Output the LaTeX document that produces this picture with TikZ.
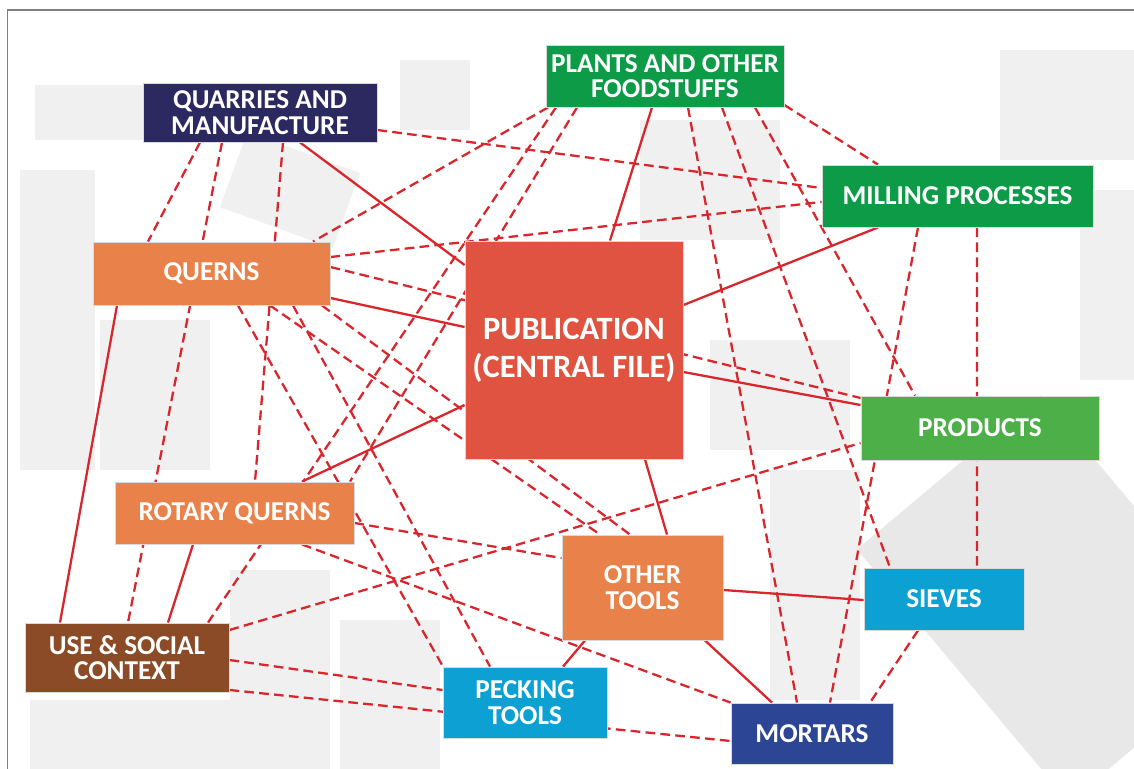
\documentclass[tikz,border=0pt]{standalone}
\usepackage{fontspec}
\setmainfont{Carlito}
\definecolor{quarry}{HTML}{2B2960}
\definecolor{plantgreen}{HTML}{0E9B48}
\definecolor{prodgreen}{HTML}{4CAF47}
\definecolor{quernorange}{HTML}{E8824A}
\definecolor{pubred}{HTML}{E05341}
\definecolor{toolblue}{HTML}{0CA0D3}
\definecolor{socialbrown}{HTML}{8B4B27}
\definecolor{mortarblue}{HTML}{2C4594}
\definecolor{linkred}{HTML}{D8262C}
\pgfdeclarelayer{papers}
\pgfdeclarelayer{links}
\pgfsetlayers{papers,links,main}

\begin{document}
\begin{tikzpicture}[
    topic/.style={rectangle, draw=white!85!black, line width=0.5pt, text=white,
        font=\bfseries\fontsize{15.5}{14.5}\selectfont, align=center, inner sep=2pt},
    solidlink/.style={draw=linkred, line width=1.3pt},
    dashlink/.style={draw=linkred, line width=1.3pt, dash pattern=on 5.5pt off 3pt},
    paper/.style={fill=gray!12, draw=none}
]
    \useasboundingbox (0,0) rectangle (22.68,-15.38);

    %papers in the back
    \begin{pgfonlayer}{papers}
        \fill[white] (0,0) rectangle (22.68,-15.38);
        \fill[paper] (0.7,-1.7) rectangle (3.0,-2.8);
        \fill[paper, rotate around={-20:(5.8,-3.8)}] (4.6,-3.0) rectangle (7.0,-4.6);
        \fill[paper] (0.4,-3.4) rectangle (1.9,-9.4);
        \fill[paper] (2.0,-6.4) rectangle (4.2,-9.4);
        \fill[paper] (8.0,-1.2) rectangle (9.4,-2.6);
        \fill[paper] (12.8,-2.4) rectangle (15.6,-4.8);
        \fill[paper] (14.2,-6.8) rectangle (17.0,-9.0);
        \fill[paper] (0.6,-14.0) rectangle (4.6,-15.38);
        \fill[paper] (4.6,-11.4) rectangle (6.6,-15.38);
        \fill[paper] (6.8,-12.4) rectangle (8.8,-15.38);
        \fill[paper] (15.4,-9.4) rectangle (17.2,-14.0);
        \fill[paper] (20.0,-1.0) rectangle (22.68,-3.2);
        \fill[paper] (21.6,-3.8) rectangle (22.68,-7.6);
        \fill[gray!18, rotate around={40:(20.6,-12.0)}] (18.6,-9.0) rectangle (23.4,-15.6);
        \draw[gray, line width=1pt] (0.15,-15.38) -- (0.15,-0.2) -- (22.68,-0.2);
    \end{pgfonlayer}

    %topics
    \node[topic, fill=quarry, minimum width=4.68cm, minimum height=1.18cm] (quarries) at (5.20,-2.25) {QUARRIES AND\\MANUFACTURE};
    \node[topic, fill=plantgreen, minimum width=4.76cm, minimum height=1.24cm] (plants) at (13.30,-1.52) {PLANTS AND OTHER\\FOODSTUFFS};
    \node[topic, fill=plantgreen, minimum width=5.42cm, minimum height=1.24cm] (milling) at (19.15,-3.92) {MILLING PROCESSES};
    \node[topic, fill=quernorange, minimum width=4.74cm, minimum height=1.26cm] (querns) at (4.23,-5.47) {QUERNS};
    \node[topic, fill=pubred, minimum width=4.36cm, minimum height=4.36cm, font=\bfseries\fontsize{18.5}{21.5}\selectfont] (pub) at (11.48,-7.0) {PUBLICATION\\(CENTRAL FILE)};
    \node[topic, fill=prodgreen, minimum width=4.76cm, minimum height=1.28cm] (products) at (19.60,-8.56) {PRODUCTS};
    \node[topic, fill=quernorange, minimum width=4.78cm, minimum height=1.24cm] (rotary) at (4.69,-10.26) {ROTARY QUERNS};
    \node[topic, fill=quernorange, minimum width=3.22cm, minimum height=2.10cm] (tools) at (12.85,-11.75) {OTHER\\TOOLS};
    \node[topic, fill=toolblue, minimum width=3.20cm, minimum height=1.24cm] (sieves) at (18.88,-11.98) {SIEVES};
    \node[topic, fill=socialbrown, minimum width=4.08cm, minimum height=1.38cm] (social) at (2.54,-13.15) {USE \& SOCIAL\\CONTEXT};
    \node[topic, fill=toolblue, minimum width=3.28cm, minimum height=1.42cm] (pecking) at (10.50,-14.05) {PECKING\\TOOLS};
    \node[topic, fill=mortarblue, minimum width=3.24cm, minimum height=1.22cm] (mortars) at (16.24,-14.67) {MORTARS};

    \begin{pgfonlayer}{links}
        %solid links
        \draw[solidlink] ([xshift=0.8cm]quarries.south) -- ([yshift=1.7cm]pub.west);
        \draw[solidlink] ([xshift=-0.26cm]plants.south) -- ([xshift=0.72cm]pub.north);
        \draw[solidlink] ([xshift=-1.59cm]milling.south) -- ([yshift=0.9cm]pub.east);
        \draw[solidlink] ([yshift=-0.49cm]querns.east) -- ([yshift=0.46cm]pub.west);
        \draw[solidlink] ([yshift=-0.44cm]pub.east) -- ([yshift=0.46cm]products.west);
        \draw[solidlink] ([xshift=1.35cm]rotary.north) -- ([yshift=-1.1cm]pub.west);
        \draw[solidlink] ([xshift=1.42cm]pub.south) -- ([xshift=0.49cm]tools.north);
        \draw[solidlink] ([yshift=-0.05cm]tools.east) -- ([yshift=-0.02cm]sieves.west);
        \draw[solidlink] ([xshift=1.25cm]tools.south) -- ([xshift=-0.8cm]mortars.north);
        \draw[solidlink] ([xshift=0.76cm]pecking.north) -- ([xshift=-1.15cm]tools.south);
        \draw[solidlink] ([xshift=-1.34cm]social.north) -- ([xshift=-1.89cm]querns.south);
        \draw[solidlink] ([xshift=0.82cm]social.north) -- ([xshift=-0.83cm]rotary.south);

        %dashed links
        \draw[dashlink] ([yshift=-0.35cm]quarries.east) -- ([yshift=0.16cm]milling.west);
        \draw[dashlink] ([xshift=-1.2cm]quarries.south) -- ([xshift=-1.27cm]querns.north);
        \draw[dashlink] ([xshift=-0.76cm]quarries.south) -- ([xshift=0.02cm]social.north);
        \draw[dashlink] ([xshift=0.46cm]quarries.south) -- ([xshift=0.41cm]rotary.north);
        \draw[dashlink] ([xshift=-2.34cm]plants.south) -- ([xshift=2.03cm]querns.north);
        \draw[dashlink] ([xshift=-2.18cm]plants.south) -- ([xshift=1.62cm]social.north);
        \draw[dashlink] ([xshift=-1.76cm]plants.south) -- ([xshift=2.31cm]rotary.north);
        \draw[dashlink] ([xshift=0.46cm]plants.south) -- ([xshift=-0.3cm]mortars.north);
        \draw[dashlink] ([xshift=1.14cm]plants.south) -- ([xshift=-1.08cm]sieves.north);
        \draw[dashlink] ([xshift=1.8cm]plants.south) -- ([xshift=-1.3cm]products.north);
        \draw[dashlink] ([yshift=-0.58cm]plants.east) -- ([xshift=-1.59cm]milling.north);
        \draw[dashlink] ([yshift=0.33cm]querns.east) -- ([yshift=-0.12cm]milling.west);
        \draw[dashlink] ([yshift=0.13cm]querns.east) -- ([yshift=0.6cm]products.west);
        \draw[dashlink] ([xshift=1.63cm]querns.south) -- ([xshift=-0.7cm]pecking.north);
        \draw[dashlink] ([xshift=1.17cm]querns.south) -- ([xshift=-0.85cm]tools.north);
        \draw[dashlink] ([xshift=2.21cm]querns.south) -- ([xshift=-0.25cm]tools.north);
        \draw[dashlink] ([xshift=0.53cm]querns.south) -- ([xshift=-1.64cm]pecking.north);
        \draw[dashlink] ([xshift=0.39cm]milling.south) -- ([xshift=0.66cm]sieves.north);
        \draw[dashlink] ([xshift=-0.79cm]milling.south) -- ([xshift=0.36cm]mortars.north);
        \draw[dashlink] ([xshift=-0.52cm]sieves.south) -- ([xshift=1.16cm]mortars.north);
        \draw[dashlink] ([yshift=-0.2cm]rotary.east) -- ([yshift=0.59cm]tools.west);
        \draw[dashlink] ([xshift=1.35cm]rotary.south) -- (mortars.north west);
        \draw[dashlink] ([yshift=0.55cm]social.east) -- ([yshift=-0.3cm]products.west);
        \draw[dashlink] ([yshift=-0.05cm]social.east) -- ([yshift=0.25cm]pecking.west);
        \draw[dashlink] ([yshift=-0.65cm]social.east) -- ([yshift=-0.15cm]mortars.west);
    \end{pgfonlayer}
\end{tikzpicture}
\end{document}
